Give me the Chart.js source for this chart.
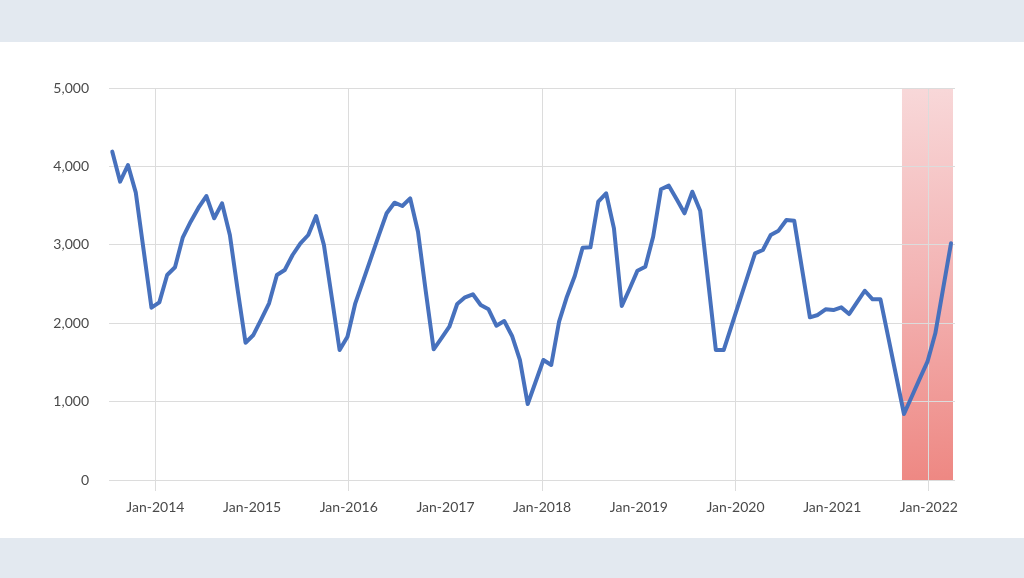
<!DOCTYPE html>
<html>
<head>
<meta charset="utf-8">
<script src="https://cdn.jsdelivr.net/npm/chart.js@4"></script>
<style>
  html, body { margin: 0; padding: 0; background: #ffffff; width: 1024px; height: 578px; overflow: hidden; }
  .band { background: #e3e9f0; width: 1024px; }
  #top { height: 42px; }
  #bot { height: 40px; }
  #wrap { height: 496px; width: 1024px; position: relative; }
  canvas { display: block; }
</style>
</head>
<body>
<div class="band" id="top"></div>
<div id="wrap"><canvas id="c" width="1024" height="496"></canvas></div>
<div class="band" id="bot"></div>
<script>
// ---- data ----
const values = [
  4188, 3805, 4018, 3665, 2930, 2198, 2266, 2615, 2713, 3096, 3295, 3473,
  3622, 3338, 3529, 3125, 2420, 1751, 1850, 2050, 2254, 2615, 2679, 2870,
  3019, 3125, 3367, 2997, 2330, 1658, 1828, 2254, 2540, 2830, 3120, 3402,
  3537, 3495, 3593, 3167, 2400, 1667, 1810, 1955, 2245, 2330, 2369, 2232,
  2177, 1968, 2028, 1837, 1531, 969, 1250, 1531, 1467, 2019, 2338, 2602,
  2963, 2968, 3550, 3657, 3210, 2219, 2440, 2670, 2721, 3103, 3708, 3754,
  3580, 3402, 3677, 3435, 2550, 1658, 1658, 1966, 2275, 2583, 2891, 2934,
  3125, 3180, 3316, 3307, 2690, 2075, 2105, 2177, 2168, 2202, 2117, 2265,
  2414, 2305, 2305, 1820, 1330, 842, 1065, 1290, 1509, 1871, 2445, 3019
];
const periodIndex = values.map((_, i) => i);
const yearTicks = [2014, 2015, 2016, 2017, 2018, 2019, 2020, 2021, 2022];
const yearRange = [2013.52, 2022.27];
const yTicks = [0, 1000, 2000, 3000, 4000, 5000];
const highlightFrom = 101;   // period where the shaded region begins

// ---- styles ----
const lineColor = '#4771bd';
const tickColor = '#4a4a4a';
const gridColor = '#dcdcdc';
const fontFamily = 'Lato, "Open Sans", sans-serif';

const highlightPlugin = {
  id: 'highlight',
  beforeDraw(chart) {
    const { ctx, scales } = chart;
    const xs = scales.x, ys = scales.y;
    const l = xs.getPixelForValue(highlightFrom) - 2;
    const r = xs.getPixelForValue(periodIndex[periodIndex.length - 1]) + 2;
    const t = ys.getPixelForValue(yTicks[yTicks.length - 1]);
    const b = ys.getPixelForValue(yTicks[0]);
    const g = ctx.createLinearGradient(l, t, l + (r - l) * 0.6, b);
    g.addColorStop(0, '#f8d8d9');
    g.addColorStop(0.5, '#f3b3b3');
    g.addColorStop(1, '#ee8883');
    ctx.save();
    ctx.fillStyle = g;
    ctx.fillRect(l, t, r - l, b - t);
    ctx.restore();
  }
};

new Chart(document.getElementById('c'), {
  type: 'line',
  data: {
    datasets: [{
      data: periodIndex.map(i => ({ x: i, y: values[i] })),
      borderColor: lineColor,
      borderWidth: 4,
      pointRadius: 0,
      tension: 0,
      fill: false,
      borderJoinStyle: 'round',
      borderCapStyle: 'round',
      xAxisID: 'x',
      yAxisID: 'y'
    }]
  },
  options: {
    responsive: false,
    animation: false,
    devicePixelRatio: 1,
    layout: { padding: { left: 0, right: 69, top: 46, bottom: 0 } },
    plugins: { legend: { display: false }, tooltip: { enabled: false } },
    scales: {
      x: {
        type: 'linear',
        min: -0.42,
        max: periodIndex.length - 1 + 0.51,
        display: false
      },
      years: {
        type: 'linear',
        position: 'bottom',
        min: yearRange[0],
        max: yearRange[1],
        afterBuildTicks: s => { s.ticks = yearTicks.map(v => ({ value: v })); },
        ticks: {
          autoSkip: false,
          maxRotation: 0,
          padding: 8,
          color: tickColor,
          font: { family: fontFamily, size: 14 },
          callback: v => 'Jan-' + v
        },
        grid: {
          color: c => (c.tick && c.tick.value % 2 === 0) ? gridColor : 'rgba(0,0,0,0)',
          lineWidth: 1,
          drawTicks: true,
          tickLength: 11
        },
        border: { display: false },
        afterFit: s => { s.height = 58; }
      },
      y: {
        min: yTicks[0],
        max: yTicks[yTicks.length - 1],
        afterBuildTicks: s => { s.ticks = yTicks.map(v => ({ value: v })); },
        ticks: {
          padding: 20,
          color: tickColor,
          font: { family: fontFamily, size: 14 },
          callback: v => v.toLocaleString('en-US')
        },
        grid: { color: gridColor, lineWidth: 1, drawTicks: false },
        border: { display: false },
        afterFit: s => { s.width = 109; }
      }
    }
  },
  plugins: [highlightPlugin]
});
</script>
</body>
</html>
